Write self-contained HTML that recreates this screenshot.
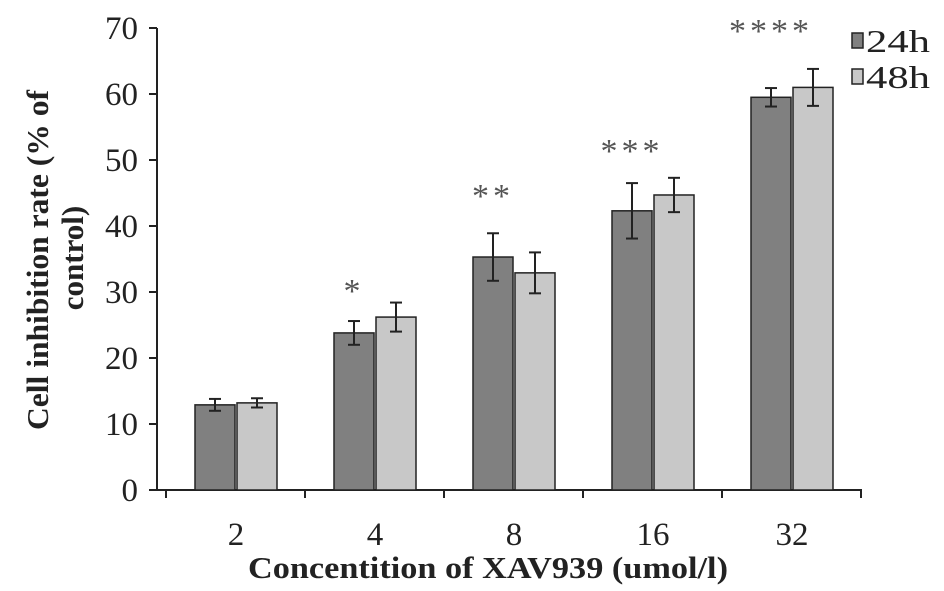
<!DOCTYPE html>
<html><head><meta charset="utf-8"><style>
body{margin:0;background:#fff;}
svg{display:block;font-family:"Liberation Serif",serif;}
</style></head><body>
<svg id="chart" width="944" height="591" viewBox="0 0 944 591">
<g id="axes"></g><g id="bars"></g>
<g>
 <rect x="852" y="33" width="11" height="15" fill="#808080" stroke="#222" stroke-width="1.5"/>
 <text x="866" y="52" font-size="32" fill="#222" textLength="64" lengthAdjust="spacingAndGlyphs">24h</text>
 <rect x="852" y="69" width="11" height="15" fill="#c8c8c8" stroke="#222" stroke-width="1.5"/>
 <text x="866" y="88" font-size="32" fill="#222" textLength="64" lengthAdjust="spacingAndGlyphs">48h</text>
</g>
<text x="488" y="578" font-size="31" font-weight="bold" text-anchor="middle" fill="#222" textLength="480" lengthAdjust="spacingAndGlyphs">Concentition of XAV939 (umol/l)</text>
<text transform="translate(48,260) rotate(-90)" font-size="31" font-weight="bold" text-anchor="middle" fill="#222" textLength="340" lengthAdjust="spacingAndGlyphs">Cell  inhibition rate (% of</text>
<text transform="translate(83,258) rotate(-90)" font-size="31" font-weight="bold" text-anchor="middle" fill="#222">control)</text>
</svg>
<script>
const categories=["2","4","8","16","32"];
const values24=[12.9,23.8,35.3,42.3,59.5];
const values48=[13.2,26.2,32.9,44.7,61.0];
const err24=[0.9,1.8,3.6,4.2,1.4];
const err48=[0.7,2.2,3.1,2.6,2.8];
const stars=["","*","**","***","****"];
const starLevels=[0,28.5,42.9,49.7,67.9];
const yTicks=[0,10,20,30,40,50,60,70];
const NS="http://www.w3.org/2000/svg";
const y=v=>490-v*6.6;
const xc=i=>236+i*139;
function mk(t,a,p){const e=document.createElementNS(NS,t);for(const k in a)e.setAttribute(k,a[k]);p.appendChild(e);return e;}
const ax=document.getElementById('axes'),bg=document.getElementById('bars');
const yl=mk('line',{x1:157,y1:y(0),x2:157,y2:y(70),stroke:'#222','stroke-width':2},ax);

const xl=mk('line',{x1:157,y1:y(0),x2:862,y2:y(0),stroke:'#222','stroke-width':2},ax);

yTicks.forEach(v=>{
 const tk=mk('line',{x1:149,y1:y(v),x2:157,y2:y(v),stroke:'#222','stroke-width':2},ax);
 
 const t=mk('text',{x:138,y:y(v)+11,'font-size':33,'text-anchor':'end',fill:'#222'},ax);t.textContent=v;
 
});
for(let i=0;i<=categories.length;i++){
 const tk=mk('line',{x1:166+i*139,y1:y(0),x2:166+i*139,y2:y(0)+8,stroke:'#222','stroke-width':2},ax);
 
}
categories.forEach((c,i)=>{
 const t=mk('text',{x:xc(i),y:545,'font-size':33,'text-anchor':'middle',fill:'#222'},ax);t.textContent=c;
 
 [[values24,err24,'#808080',-41,'24h'],[values48,err48,'#c8c8c8',1,'48h']].forEach(([vals,errs,col,off,nm])=>{
  const v=vals[i],e=errs[i],x0=xc(i)+off;
  const r=mk('rect',{x:x0,y:y(v),width:40,height:y(0)-y(v),fill:col,stroke:'#222','stroke-width':1.5},bg);
  
  const cx=x0+20;
  const g=mk('g',{stroke:'#222','stroke-width':2},bg);
  
  mk('line',{x1:cx,y1:y(v+e),x2:cx,y2:y(v-e)},g);
  mk('line',{x1:cx-6,y1:y(v+e),x2:cx+6,y2:y(v+e)},g);
  mk('line',{x1:cx-6,y1:y(v-e),x2:cx+6,y2:y(v-e)},g);
 });
 if(stars[i]){
  const s=mk('text',{x:xc(i)-21,y:y(starLevels[i]),'font-size':34,'text-anchor':'middle',fill:'#555','letter-spacing':'4'},bg);
  s.textContent=stars[i];
  
 }
});
</script>
</body></html>
